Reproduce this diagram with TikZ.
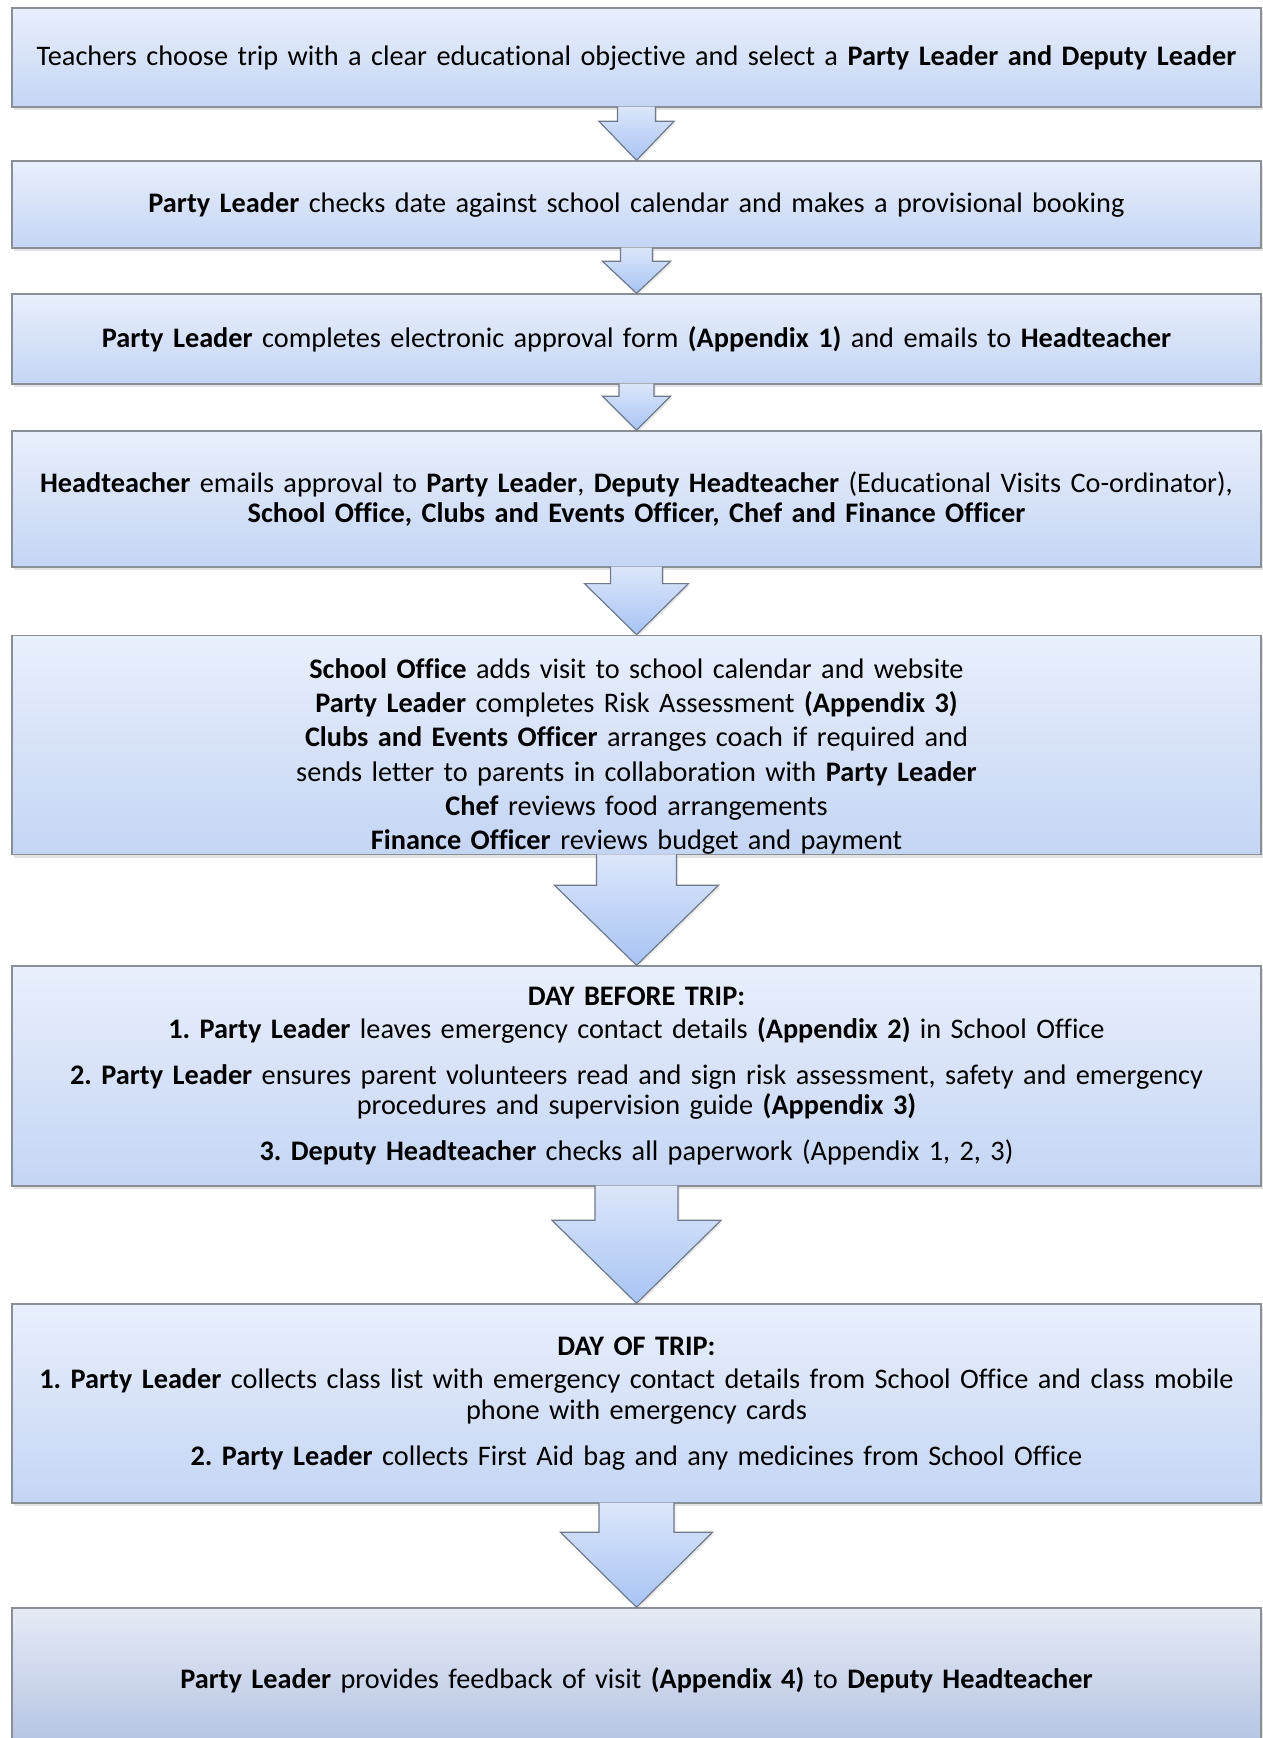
\documentclass[tikz,border=0pt]{standalone}
\usepackage{fontspec}
\setmainfont{Carlito}[Ligatures=NoCommon]
\usetikzlibrary{calc,shadows}
\definecolor{boxtop}{HTML}{E9EFFC}
\definecolor{boxbot}{HTML}{C4D5F4}
\definecolor{lasttop}{HTML}{E6EAF5}
\definecolor{lastbot}{HTML}{B2C2E2}
\definecolor{boxline}{HTML}{8A8F96}
\definecolor{arrowtop}{HTML}{DCE6FA}
\definecolor{arrowbot}{HTML}{A8C4F4}
\definecolor{arrowline}{HTML}{6E7A8C}
\tikzset{
  flowbox/.style={rectangle, draw=boxline, line width=1.4pt,
    top color=boxtop, bottom color=boxbot,
    minimum width=1249pt, text width=1249pt, align=center, inner sep=0pt,
    font=\fontsize{28.3}{33}\selectfont\frenchspacing,
    drop shadow={shadow xshift=2pt, shadow yshift=-3pt, opacity=0.22}},
  lastbox/.style={flowbox, top color=lasttop, bottom color=lastbot},
  flowarrow/.style={draw=arrowline, line width=1.2pt, line join=miter,
    top color=arrowtop, bottom color=arrowbot,
    drop shadow={shadow xshift=1.5pt, shadow yshift=-2pt, opacity=0.18}},
}
% from, to, shaft half width, head half width, head length
\newcommand\blockarrow[5]{%
  \path[flowarrow] let \p1=(#1.south), \p2=(#2.north) in
    (\x2-#3pt,\y1+1pt) -- (\x2-#3pt,\y2+#5pt) -- (\x2-#4pt,\y2+#5pt) --
    (\x2,\y2) -- (\x2+#4pt,\y2+#5pt) -- (\x2+#3pt,\y2+#5pt) -- (\x2+#3pt,\y1+1pt);
}
\begin{document}
\begin{tikzpicture}[x=1pt,y=-1pt]
\useasboundingbox (0,0) rectangle (1263,1738);

\node[flowbox, minimum height=99pt] (b1) at (636.5,57.5)
  {Teachers choose trip with a clear educational objective and select a \textbf{Party Leader and Deputy Leader}};

\node[flowbox, minimum height=87pt] (b2) at (636.5,204.5)
  {\textbf{Party Leader} checks date against school calendar and makes a provisional booking};

\node[flowbox, minimum height=90pt] (b3) at (636.5,339)
  {\textbf{Party Leader} completes electronic approval form \textbf{(Appendix 1)} and emails to \textbf{Headteacher}};

\node[flowbox, minimum height=136pt, font=\fontsize{28.3}{30.5}\selectfont\frenchspacing] (b4) at (636.5,499)
  {\textbf{Headteacher} emails approval to \textbf{Party Leader}, \textbf{Deputy Headteacher} (Educational Visits Co-ordinator),\\
   \textbf{School Office, Clubs and Events Officer, Chef and Finance Officer}};

\node[flowbox, minimum height=214pt, font=\fontsize{28.3}{34.3}\selectfont\frenchspacing] (b5) at (636.5,745)
  {\rule{0pt}{43pt}\textbf{School Office} adds visit to school calendar and website\\
   \textbf{Party Leader} completes Risk Assessment \textbf{(Appendix 3)}\\
   \textbf{Clubs and Events Officer} arranges coach if required and\\
   sends letter to parents in collaboration with \textbf{Party Leader}\\
   \textbf{Chef} reviews food arrangements\\
   \textbf{Finance Officer} reviews budget and payment};

\node[flowbox, minimum height=220pt, font=\fontsize{28.3}{30.5}\selectfont\frenchspacing] (b6) at (636.5,1076)
  {\textbf{DAY BEFORE TRIP:}\\[2.5pt]
   \textbf{1. Party Leader} leaves emergency contact details \textbf{(Appendix 2)} in School Office\\[15.5pt]
   \textbf{2. Party Leader} ensures parent volunteers read and sign risk assessment, safety and emergency\\
   procedures and supervision guide \textbf{(Appendix 3)}\\[15.5pt]
   \textbf{3. Deputy Headteacher} checks all paperwork (Appendix 1, 2, 3)};

\node[flowbox, minimum height=199pt, font=\fontsize{28.3}{30.5}\selectfont\frenchspacing] (b7) at (636.5,1403.5)
  {\textbf{DAY OF TRIP:}\\[2.5pt]
   \textbf{1. Party Leader} collects class list with emergency contact details from School Office and class mobile\\
   phone with emergency cards\\[15.5pt]
   \textbf{2. Party Leader} collects First Aid bag and any medicines from School Office};

\node[lastbox, minimum height=144pt] (b8) at (636.5,1680)
  {\textbf{Party Leader} provides feedback of visit \textbf{(Appendix 4)} to \textbf{Deputy Headteacher}};

\blockarrow{b1}{b2}{19}{37.5}{39}
\blockarrow{b2}{b3}{16}{34}{32}
\blockarrow{b3}{b4}{17.5}{34}{34}
\blockarrow{b4}{b5}{26}{52}{51}
\blockarrow{b5}{b6}{40}{82}{80}
\blockarrow{b6}{b7}{41.5}{84.5}{83}
\blockarrow{b7}{b8}{37.5}{76}{75}
\end{tikzpicture}
\end{document}
